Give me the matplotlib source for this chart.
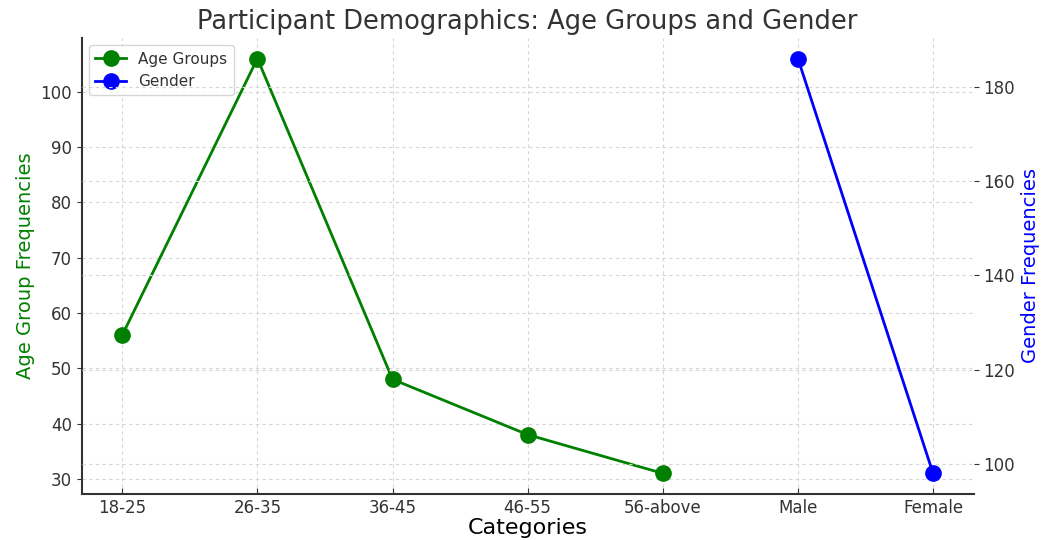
import matplotlib.pyplot as plt

categories = ['18-25', '26-35', '36-45', '46-55', '56-above', 'Male', 'Female']
age_groups = ['18-25', '26-35', '36-45', '46-55', '56-above']
age_counts = [56, 106, 48, 38, 31]
genders = ['Male', 'Female']
gender_counts = [186, 98]

plt.rcParams['font.family'] = 'DejaVu Sans'
plt.rcParams['text.color'] = '#333333'
plt.rcParams['xtick.color'] = '#333333'
plt.rcParams['ytick.color'] = '#333333'

fig = plt.figure(figsize=(10.48, 5.4), dpi=100)
ax1 = fig.add_axes([0.078, 0.085, 0.851, 0.845])

x_age = [categories.index(c) for c in age_groups]
x_gen = [categories.index(c) for c in genders]

l1, = ax1.plot(x_age, age_counts, color='green', marker='o', markersize=11,
               linewidth=2, label='Age Groups')
ax1.set_xticks(range(len(categories)))
ax1.set_xticklabels(categories, fontsize=12)
ax1.set_xlabel('Categories', fontsize=16, labelpad=1)
ax1.set_ylabel('Age Group Frequencies', color='green', fontsize=14)
ax1.tick_params(axis='y', labelsize=12)
ax1.tick_params(axis='x', direction='in', length=4)
ax1.grid(True, linestyle=(0, (3, 3)), color='#d5d5d5', linewidth=0.8)

ax2 = ax1.twinx()
l2, = ax2.plot(x_gen, gender_counts, color='blue', marker='o', markersize=11,
               linewidth=2, label='Gender')
ax2.set_ylabel('Gender Frequencies', color='blue', fontsize=14)
ax2.tick_params(axis='y', labelsize=12)
ax2.grid(True, linestyle=(0, (3, 3)), color='#d5d5d5', linewidth=0.8)

for ax in (ax1, ax2):
    ax.spines['top'].set_visible(False)
    ax.spines['right'].set_visible(False)
    ax.spines['left'].set_color('#333333')
    ax.spines['bottom'].set_color('#333333')
    ax.spines['left'].set_linewidth(1.5)
    ax.spines['bottom'].set_linewidth(1.5)
ax2.spines['left'].set_visible(False)
ax2.spines['bottom'].set_visible(False)

ax1.legend([l1, l2], ['Age Groups', 'Gender'], loc='upper left', fontsize=11)
ax1.set_title('Participant Demographics: Age Groups and Gender', fontsize=18.5)

fig.savefig('out.png', dpi=100)
